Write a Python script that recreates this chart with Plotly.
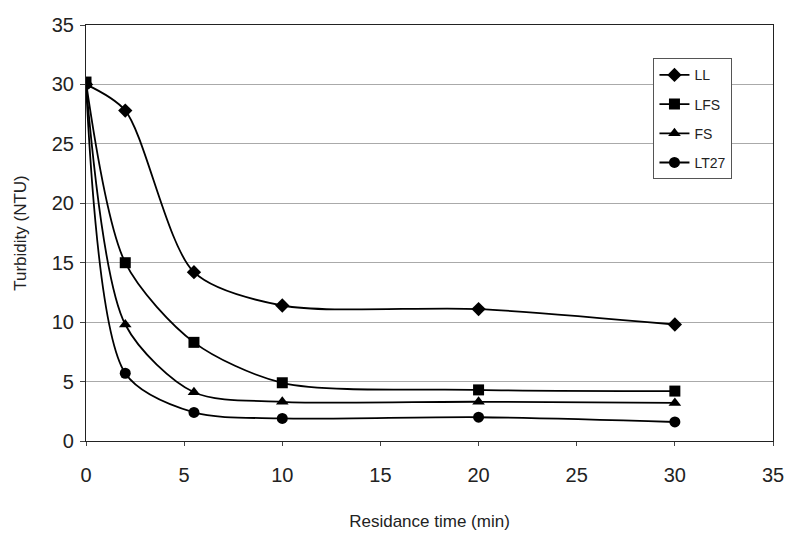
import plotly.graph_objects as go

time_min = [0, 2, 5.5, 10, 20, 30]
ll = [30.0, 27.8, 14.2, 11.4, 11.1, 9.8]
lfs = [30.2, 15.0, 8.3, 4.9, 4.3, 4.2]
fs = [30.0, 9.8, 4.1, 3.3, 3.3, 3.2]
lt27 = [30.0, 5.7, 2.4, 1.9, 2.0, 1.6]

series = [("LL", ll, "diamond"), ("LFS", lfs, "square"),
          ("FS", fs, "triangle-up"), ("LT27", lt27, "circle")]

fig = go.Figure()
for name, vals, sym in series:
    fig.add_trace(go.Scatter(
        x=time_min, y=vals, name=name, mode="lines+markers", legendgroup=name,
        line=dict(color="black", width=1.8, shape="spline", smoothing=0.8),
        marker=dict(symbol=sym, size=11, color="black"),
    ))

fig.update_layout(
    width=795, height=530,
    margin=dict(l=78, r=30, t=17, b=97),
    paper_bgcolor="white", plot_bgcolor="white",
    font=dict(family="Liberation Sans, Arial, sans-serif", color="#222"),
    showlegend=True,
    legend=dict(x=0.826, y=0.92, xanchor="left", yanchor="top",
                bordercolor="#555", borderwidth=1, bgcolor="white",
                font=dict(size=14), tracegroupgap=8, itemwidth=30),
)
fig.update_xaxes(range=[0, 35], dtick=5, tick0=0, showgrid=False, automargin=False,
                 showline=True, linecolor="#222", linewidth=1.2, mirror=True,
                 ticks="outside", ticklen=4, tickfont=dict(size=20),
                 ticklabelstandoff=12,
                 title=dict(text="Residance time (min)", font=dict(size=17), standoff=30),
                 zeroline=False)
fig.update_yaxes(range=[0, 35], dtick=5, tick0=0, showgrid=True, automargin=False,
                 gridcolor="#aaa", gridwidth=1,
                 showline=True, linecolor="#222", linewidth=1.2, mirror=True,
                 ticks="outside", ticklen=5, tickfont=dict(size=20),
                 ticklabelstandoff=2,
                 title=dict(text="Turbidity (NTU)", font=dict(size=17), standoff=20),
                 zeroline=False)

fig.write_html("out.html")
